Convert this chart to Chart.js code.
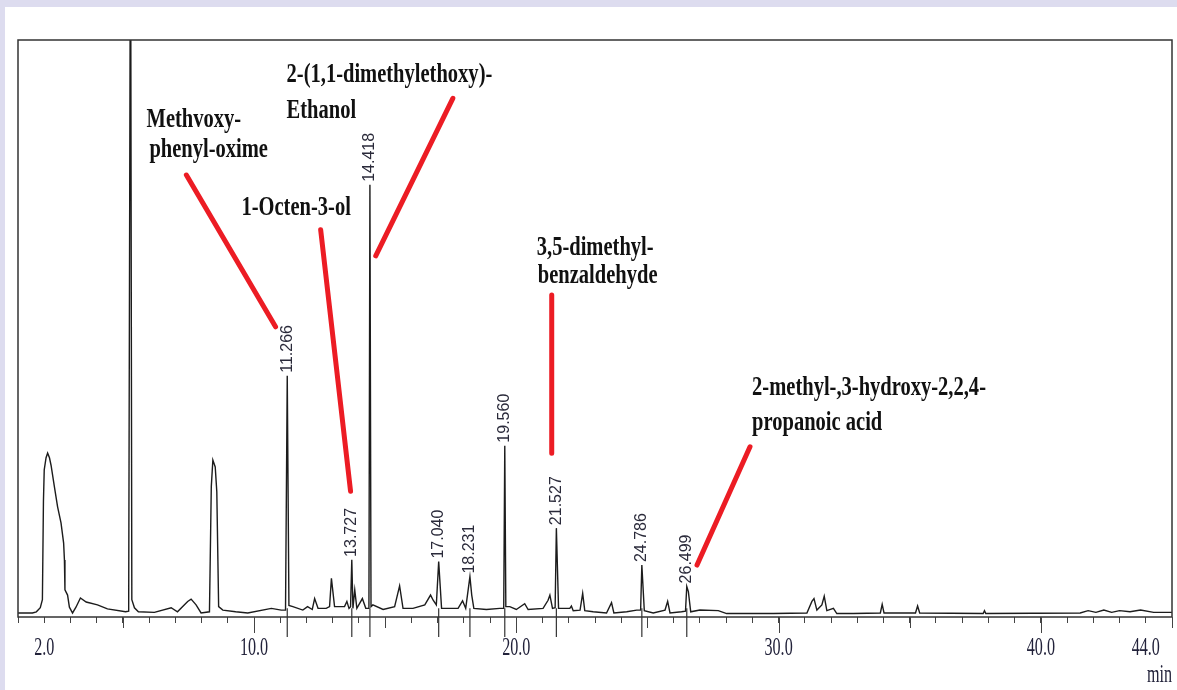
<!DOCTYPE html>
<html>
<head>
<meta charset="utf-8">
<script src="https://cdn.jsdelivr.net/npm/chart.js@4.4.1/dist/chart.umd.min.js"></script>
<style>
  html, body { margin: 0; padding: 0; background: #dddcef; }
  #chart { display: block; }
</style>
</head>
<body>
<canvas id="chart" width="1177" height="690"></canvas>
<script>
// chromatogram trace (time in min, relative signal 0-100)
const traceTime = [
  1.00, 1.55, 1.70, 1.85, 1.93, 1.97, 2.00, 2.07, 2.13, 2.20, 2.26, 2.39, 2.51, 2.64, 2.74, 2.77, 2.79, 2.89, 2.96, 3.08,
  3.21, 3.38, 3.60, 4.03, 4.41, 5.10, 5.22, 5.29, 5.34, 5.44, 5.59, 6.20, 6.84, 7.08, 7.47, 7.60, 7.79, 7.98, 8.30, 8.37,
  8.43, 8.52, 8.58, 8.65, 8.81, 9.30, 9.76, 10.66, 11.04, 11.20, 11.266, 11.33, 11.48, 11.86, 12.04, 12.22, 12.31, 12.44, 12.75, 12.88,
  12.95, 13.07, 13.45, 13.54, 13.62, 13.68, 13.727, 13.77, 13.84, 13.92, 14.13, 14.26, 14.38, 14.418, 14.46, 14.53, 14.92, 15.36, 15.55, 15.68,
  16.06, 16.51, 16.73, 16.83, 16.95, 17.040, 17.15, 17.46, 17.78, 17.95, 18.07, 18.231, 18.30, 18.38, 18.86, 19.37, 19.52, 19.560, 19.60, 19.75,
  20.00, 20.32, 20.45, 21.02, 21.21, 21.28, 21.38, 21.48, 21.527, 21.61, 22.04, 22.10, 22.17, 22.43, 22.53, 22.61, 22.93, 23.44, 23.63, 23.72,
  24.21, 24.59, 24.74, 24.786, 24.88, 25.22, 25.67, 25.77, 25.86, 26.30, 26.45, 26.499, 26.56, 26.65, 27.00, 27.70, 28.02, 29.80, 31.08, 31.27,
  31.35, 31.46, 31.65, 31.74, 31.84, 32.09, 32.22, 32.85, 33.88, 33.95, 34.02, 35.22, 35.30, 35.38, 37.80, 37.85, 37.90, 41.50, 41.80, 42.10,
  42.40, 42.70, 43.00, 43.40, 43.80, 44.30, 45.00
];
const traceSignal = [
  0.7, 0.7, 0.9, 1.6, 3.0, 20.0, 25.5, 27.6, 28.4, 27.6, 26.3, 22.5, 19.1, 16.3, 12.8, 9.9, 4.7, 3.8, 1.7, 0.7,
  1.7, 3.3, 2.6, 2.1, 1.4, 0.9, 1.0, 130, 3.0, 1.6, 0.9, 0.8, 1.6, 0.9, 2.7, 3.1, 2.1, 0.7, 0.9, 22.6,
  27.2, 26.0, 21.7, 1.8, 1.2, 0.9, 0.7, 1.5, 1.2, 1.2, 41.8, 2.0, 1.8, 1.2, 1.8, 1.3, 3.2, 1.5, 1.5, 1.8,
  6.7, 1.8, 1.8, 2.7, 1.5, 1.8, 9.9, 1.5, 4.7, 1.5, 3.2, 1.5, 1.5, 74.9, 1.8, 2.1, 1.3, 1.8, 5.4, 1.5,
  1.5, 2.1, 3.8, 2.9, 2.1, 9.6, 1.5, 1.5, 1.5, 2.8, 1.5, 7.0, 3.8, 1.5, 1.3, 1.5, 1.5, 29.7, 1.8, 1.8,
  1.3, 2.3, 1.3, 1.5, 2.9, 3.8, 1.5, 1.6, 15.4, 1.5, 1.5, 1.9, 1.1, 1.2, 4.1, 1.1, 0.9, 0.7, 2.5, 0.7,
  0.9, 1.2, 1.2, 9.0, 1.1, 0.7, 1.2, 2.7, 0.7, 0.9, 1.0, 5.3, 4.4, 0.9, 1.2, 1.1, 0.6, 0.6, 0.7, 2.7,
  3.2, 1.2, 2.1, 3.6, 1.1, 1.5, 0.6, 0.6, 0.7, 2.2, 0.7, 0.7, 1.9, 0.7, 0.6, 1.1, 0.6, 0.7, 1.1, 0.8,
  1.2, 0.8, 1.1, 0.9, 1.2, 0.8, 0.8
];

// labelled peaks (retention time labels)
const peakTimes = [11.266, 13.727, 14.418, 17.040, 18.231, 19.560, 21.527, 24.786, 26.499];
const peakLabels = ['11.266', '13.727', '14.418', '17.040', '18.231', '19.560', '21.527', '24.786', '26.499'];
const peakHeights = [41.8, 9.9, 74.9, 9.6, 7.0, 29.7, 15.4, 9.0, 5.3];

// x axis tick labels
const tickValues = [2, 10, 20, 30, 40, 44];
const tickLabels = ['2.0', '10.0', '20.0', '30.0', '40.0', '44.0'];
const axisUnit = 'min';

// compound names, one entry per printed line
const compoundLines = [
  'Methvoxy-', 'phenyl-oxime',
  '1-Octen-3-ol',
  '2-(1,1-dimethylethoxy)-', 'Ethanol',
  '3,5-dimethyl-', 'benzaldehyde',
  '2-methyl-,3-hydroxy-2,2,4-', 'propanoic acid'
];
// where each line starts (left, baseline) in chart units
const compoundAnchors = [
  [5.90, 84.9], [6.01, 79.7],
  [9.52, 69.7],
  [11.24, 92.7], [11.24, 86.5],
  [20.78, 62.7], [20.82, 57.9],
  [28.99, 38.5], [28.99, 32.4]
];
// red pointer lines from name to peak, in chart units
const pointers = [
  [[7.42, 76.6], [10.82, 50.3]],
  [[12.54, 67.1], [13.68, 21.8]],
  [[17.58, 89.9], [14.64, 62.6]],
  [[21.35, 55.8], [21.35, 28.4]],
  [[28.91, 29.5], [26.89, 9.0]]
];

const datasets = [{
  data: traceTime.map((t, i) => ({ x: t, y: traceSignal[i] })),
  borderColor: '#1c1c1c',
  borderWidth: 1.4,
  pointRadius: 0,
  tension: 0,
  order: 2
}];
pointers.forEach(p => {
  datasets.push({
    data: p.map(d => ({ x: d[0], y: d[1] })),
    borderColor: '#ec1c24',
    borderWidth: 5,
    borderCapStyle: 'round',
    pointRadius: 0,
    order: 1
  });
});

// compressed text helper (the original print uses narrow Times)
function squeezeText(ctx, txt, x, y, sx) {
  ctx.save();
  ctx.translate(x, y);
  ctx.scale(sx, 1);
  ctx.fillText(txt, 0, 0);
  ctx.restore();
}

const chromPlugin = {
  id: 'chrom',
  beforeDraw(chart) {
    const ctx = chart.ctx;
    ctx.save();
    ctx.fillStyle = '#dddcef';
    ctx.fillRect(0, 0, chart.width, chart.height);
    ctx.fillStyle = '#ffffff';
    ctx.fillRect(5, 7, chart.width - 5, chart.height - 7);
    ctx.restore();
  },
  afterDraw(chart) {
    const ctx = chart.ctx;
    const { left, right, top, bottom } = chart.chartArea;
    const xs = chart.scales.x, ys = chart.scales.y;

    ctx.save();
    // frame
    ctx.strokeStyle = '#333';
    ctx.lineWidth = 1.5;
    ctx.strokeRect(left, top, right - left, bottom - top);

    // longer ticks every 5 and 10 min
    ctx.lineWidth = 1;
    ctx.strokeStyle = '#444';
    xs.ticks.forEach(tk => {
      const v = tk.value;
      if (v % 5 !== 0) return;
      const len = v % 10 === 0 ? 16 : 11;
      const px = Math.round(xs.getPixelForValue(v)) + 0.5;
      ctx.beginPath();
      ctx.moveTo(px, bottom);
      ctx.lineTo(px, bottom + len);
      ctx.stroke();
    });

    // peak markers through the axis
    ctx.strokeStyle = '#333';
    ctx.lineWidth = 1.2;
    peakTimes.forEach(t => {
      const px = xs.getPixelForValue(t);
      ctx.beginPath();
      ctx.moveTo(px, ys.getPixelForValue(1.5));
      ctx.lineTo(px, bottom + 20);
      ctx.stroke();
    });

    // tick labels
    ctx.fillStyle = '#22223a';
    ctx.font = '26px "Liberation Serif"';
    ctx.textBaseline = 'alphabetic';
    tickValues.forEach((v, i) => {
      const w = ctx.measureText(tickLabels[i]).width * 0.62;
      squeezeText(ctx, tickLabels[i], xs.getPixelForValue(v) - w / 2, bottom + 38, 0.62);
    });
    const uw = ctx.measureText(axisUnit).width * 0.62;
    squeezeText(ctx, axisUnit, right - uw, bottom + 65, 0.62);

    // retention time labels, rotated above each apex
    ctx.fillStyle = '#2a2a3a';
    ctx.font = '16px "Liberation Sans"';
    ctx.textBaseline = 'middle';
    ctx.textAlign = 'left';
    peakTimes.forEach((t, i) => {
      ctx.save();
      ctx.translate(xs.getPixelForValue(t), ys.getPixelForValue(peakHeights[i]) - 3);
      ctx.rotate(-Math.PI / 2);
      ctx.fillText(peakLabels[i], 0, 0);
      ctx.restore();
    });

    // compound names
    ctx.fillStyle = '#111';
    ctx.font = 'bold 27px "Liberation Serif"';
    ctx.textBaseline = 'alphabetic';
    compoundLines.forEach((txt, i) => {
      const a = compoundAnchors[i];
      squeezeText(ctx, txt, xs.getPixelForValue(a[0]), ys.getPixelForValue(a[1]), 0.76);
    });
    ctx.restore();
  }
};

new Chart(document.getElementById('chart'), {
  type: 'line',
  data: { datasets },
  options: {
    responsive: false,
    animation: false,
    parsing: true,
    layout: { padding: { left: 18, right: 5, top: 40, bottom: 67 } },
    plugins: { legend: { display: false }, tooltip: { enabled: false } },
    scales: {
      x: {
        type: 'linear',
        min: 1,
        max: 45,
        ticks: { stepSize: 1, display: false },
        grid: { drawOnChartArea: false, drawTicks: true, tickLength: 6, color: '#444', lineWidth: 1 },
        border: { display: false }
      },
      y: {
        display: false,
        min: 0,
        max: 100
      }
    }
  },
  plugins: [chromPlugin]
});
</script>
</body>
</html>
